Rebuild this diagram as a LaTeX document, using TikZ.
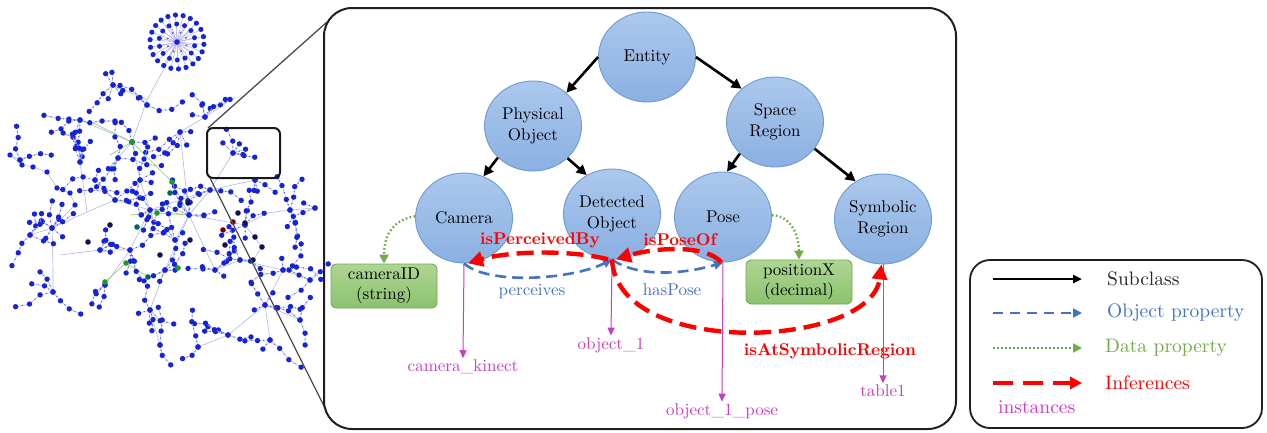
\documentclass[tikz,border=0pt]{standalone}
\usepackage{fontspec}
\setmainfont{lmroman10-regular.otf}[BoldFont=lmroman10-bold.otf]
\usetikzlibrary{arrows.meta,shapes.geometric}

\definecolor{clstop}{RGB}{172,200,237}
\definecolor{clsbot}{RGB}{138,176,226}
\definecolor{clsline}{RGB}{108,155,212}
\definecolor{boxtop}{RGB}{174,213,148}
\definecolor{boxbot}{RGB}{140,194,110}
\definecolor{boxline}{RGB}{112,172,78}
\definecolor{objblue}{RGB}{68,114,196}
\definecolor{datagreen}{RGB}{112,173,71}
\definecolor{instmag}{RGB}{202,62,192}
\definecolor{netblue}{RGB}{22,36,215}
\definecolor{netline}{RGB}{176,176,242}
\definecolor{netmidc}{RGB}{95,95,225}
\definecolor{netdark}{RGB}{18,18,80}
\definecolor{netgreenc}{RGB}{30,150,40}
\definecolor{netgline}{RGB}{150,205,130}

\tikzset{
  cls/.style={ellipse, draw=clsline, line width=0.9pt, top color=clstop, bottom color=clsbot,
    minimum width=97pt, minimum height=90pt, inner sep=0pt, align=center,
    font=\fontsize{17}{20.5}\selectfont},
  dtype/.style={rectangle, rounded corners=5pt, draw=boxline, line width=0.9pt,
    top color=boxtop, bottom color=boxbot, minimum width=106pt, minimum height=44pt,
    inner sep=0pt, align=center, font=\fontsize{17}{20}\selectfont},
  inst/.style={text=instmag, font=\fontsize{17}{20}\selectfont, inner sep=1.5pt},
  subcls/.style={draw=black, line width=2.6pt, -{Triangle[length=10pt,width=10pt]}},
  objprop/.style={draw=objblue, line width=2.6pt, dash pattern=on 11pt off 6pt,
    -{Triangle[length=9pt,width=9pt]}},
  dataprop/.style={draw=datagreen, line width=2.4pt, dash pattern=on 1.6pt off 2.4pt,
    -{Triangle[length=9pt,width=9pt]}},
  infer/.style={draw=red, line width=4.4pt, dash pattern=on 17pt off 8pt,
    -{Triangle[length=15pt,width=15pt]}},
  instof/.style={draw=instmag, line width=1pt, -{Triangle[length=8pt,width=7pt]}},
  lbl/.style={font=\fontsize{17}{20}\selectfont, inner sep=1pt},
  ilbl/.style={text=red, font=\fontsize{17}{20}\selectfont\bfseries, inner sep=1pt},
  leg/.style={font=\fontsize{19.5}{22}\selectfont, anchor=west, inner sep=0pt},
  panel/.style={draw=black!88, line width=2pt, rounded corners=28pt},
  legbox/.style={draw=black!88, line width=1.8pt, rounded corners=20pt},
  zoomwin/.style={draw=black!90, line width=2pt, rounded corners=6pt},
  zoomline/.style={draw=black!70, line width=1.3pt},
  netedge/.style={draw=netline, line width=0.55pt},
  netgedge/.style={draw=netgline, line width=0.7pt},
  netnode/.style={fill=netblue},
  netmid/.style={fill=netmidc},
}

% one hub of the network: #3 random branches of one to three links each
\newcommand\netcluster[3]{%
  \foreach \k in {1,...,#3}{%
    \pgfmathsetmacro\aA{360*rnd}%
    \pgfmathsetmacro\aB{\aA+80*(rnd-0.5)}%
    \pgfmathsetmacro\aC{\aB+80*(rnd-0.5)}%
    \pgfmathsetmacro\sA{10+5*rnd}%
    \pgfmathsetmacro\sB{10+5*rnd}%
    \pgfmathsetmacro\sC{10+5*rnd}%
    \pgfmathsetmacro\hA{0.5*\sA}%
    \pgfmathsetmacro\hB{0.5*\sB}%
    \pgfmathsetmacro\hC{0.5*\sC}%
    \pgfmathtruncatemacro\nlen{1+3*rnd}%
    \ifcase\nlen\or
      \draw[netedge] (#1,#2) -- ++(\aA:\sA);
      \fill[netmid] (#1,#2) ++(\aA:\hA) circle[radius=0.7pt];
      \fill[netnode] (#1,#2) ++(\aA:\sA) circle[radius=2.7pt];
    \or
      \draw[netedge] (#1,#2) -- ++(\aA:\sA) -- ++(\aB:\sB);
      \fill[netmid] (#1,#2) ++(\aA:\hA) circle[radius=0.7pt] ++(\aA:\hA) ++(\aB:\hB) circle[radius=0.7pt];
      \fill[netnode] (#1,#2) ++(\aA:\sA) circle[radius=2.7pt] ++(\aB:\sB) circle[radius=2.7pt];
    \else
      \draw[netedge] (#1,#2) -- ++(\aA:\sA) -- ++(\aB:\sB) -- ++(\aC:\sC);
      \fill[netmid] (#1,#2) ++(\aA:\hA) circle[radius=0.7pt] ++(\aA:\hA) ++(\aB:\hB) circle[radius=0.7pt]
        ++(\aB:\hB) ++(\aC:\hC) circle[radius=0.7pt];
      \fill[netnode] (#1,#2) ++(\aA:\sA) circle[radius=2.7pt] ++(\aB:\sB) circle[radius=2.7pt]
        ++(\aC:\sC) circle[radius=2.7pt];
    \fi
  }%
  \fill[netnode] (#1,#2) circle[radius=2.9pt];
}

\begin{document}
\begin{tikzpicture}[x=1pt,y=-1pt]
\useasboundingbox (0,0) rectangle (1267,432);
\fill[white] (0,0) rectangle (1267,432);

% ---------------- network overview ----------------
\pgfmathsetseed{11}
\draw[netedge] (177,42) -- (165,67) -- (147,100) -- (132,142);
\draw[netedge] (147,100) -- (113,85);
\draw[netedge] (132,142) -- (80,120);
\draw[netedge] (132,142) -- (118,158);
\draw[netedge] (132,142) -- (140,180) -- (150,210);
\draw[netedge] (189,215) -- (150,210) -- (115,200) -- (87,212) -- (52,228);
\draw[netedge] (87,212) -- (80,162);
\draw[netedge] (52,228) -- (53,268) -- (53,292);
\draw[netedge] (52,228) -- (75,205) -- (70,193) -- (57,188) -- (47,172) -- (33,167) -- (22,165) -- (10,155);
\draw[netedge] (189,215) -- (180,132) -- (205,117) -- (235,97);
\draw[netedge] (189,215) -- (210,190) -- (233,153);
\draw[netedge] (189,215) -- (245,225) -- (267,213) -- (290,210) -- (315,208);
\draw[netedge] (189,215) -- (215,270) -- (240,260) -- (283,270) -- (310,280);
\draw[netedge] (283,270) -- (265,305) -- (228,335) -- (198,347);
\draw[netedge] (265,305) -- (300,320);
\draw[netedge] (265,305) -- (270,340);
\draw[netedge] (189,215) -- (165,270) -- (150,310) -- (160,345);
\draw[netedge] (150,210) -- (130,250) -- (105,285);
\draw[netedge] (130,250) -- (100,250) -- (60,255);
\draw[netedge] (150,210) -- (210,190) -- (255,180);
\draw[netedge] (175,240) -- (189,215);
\draw[netedge] (95,180) -- (115,200);
\draw[netedge] (30,235) -- (52,228);
\draw[netedge] (245,225) -- (262,247) -- (253,260) -- (240,260);
\draw[netedge] (20,160) -- (10,155);
\draw[netgedge] (93,123) -- (132,142) -- (150,160);
\draw[netgedge] (110,155) -- (132,142) -- (172,182) -- (189,215);
\draw[netgedge] (130,215) -- (157,213) -- (189,215);
\draw[netgedge] (157,213) -- (150,232);
\draw[netgedge] (105,282) -- (126,263) -- (148,277) -- (178,268);

% hub at the top: a dense star
\foreach \k in {0,...,21}{
  \draw[netedge] (177,42) -- ++(\k*16.36+5:27);
  \fill[netnode] (177,42) ++(\k*16.36+5:27) circle[radius=2.6pt];
}
\foreach \k in {0,...,13}{
  \draw[netedge] (177,42) -- ++(\k*25.7+12:18);
  \fill[netnode] (177,42) ++(\k*25.7+12:18) circle[radius=2.5pt];
}
\foreach \k in {0,...,7}{
  \fill[netmid] (177,42) ++(\k*45+20:10) circle[radius=1.1pt];
}
\fill[netnode] (177,42) circle[radius=2.8pt];

% branching clusters
\foreach \hx/\hy/\hn in {
  113/85/6, 147/105/3, 80/120/5, 118/158/5, 132/142/3, 80/162/4, 52/228/8,
  53/292/4, 115/200/4, 150/210/5, 189/215/6, 180/132/5, 205/117/5, 233/153/6,
  210/190/4, 245/225/5, 290/210/5, 130/250/5, 165/270/5, 215/270/5, 283/270/4,
  265/305/5, 228/335/4, 150/310/5, 300/320/3, 105/285/3, 175/240/4, 255/180/3,
  100/250/4, 30/235/4, 240/260/3, 315/208/2, 198/347/2, 140/180/4, 270/340/3,
  310/280/3, 95/180/3, 160/345/2, 20/160/2}
  {\netcluster{\hx}{\hy}{\hn}}

% chain on the far left
\foreach \cx/\cy in {10/155, 22/165, 33/167, 47/172, 57/188, 70/193, 75/205}
  {\fill[netnode] (\cx,\cy) circle[radius=2.7pt];}

% highlighted nodes
\foreach \cx/\cy in {188/203, 238/213, 245/223, 255/237, 262/247, 253/260, 88/242,
  225/245, 160/255, 110/225, 190/240}
  {\fill[netdark] (\cx,\cy) circle[radius=2.8pt];}
\foreach \cx/\cy in {233/222, 223/230}
  {\fill[red!45!black] (\cx,\cy) circle[radius=2.8pt];}
\foreach \cx/\cy in {132/142, 157/213, 172/182, 105/282, 126/263, 178/268}
  {\fill[netgreenc] (\cx,\cy) circle[radius=2.8pt];}
\foreach \cx/\cy in {137/227, 148/277, 170/193}
  {\fill[teal!80!black] (\cx,\cy) circle[radius=2.8pt];}

% ---------------- zoom window ----------------
\draw[zoomwin] (207,128) rectangle (280,178);
\coordinate (zwTL) at (208,128);
\coordinate (zwBL) at (210,178);
\coordinate (pnTL) at (327,22);
\coordinate (pnBL) at (326,410);
\draw[zoomline] (zwTL) -- (pnTL);
\draw[zoomline] (zwBL) -- (pnBL);

% ---------------- ontology panel ----------------
\draw[panel] (324,8) rectangle (956,429);

\node[cls] (entity) at (647,57) {Entity};
\node[cls] (phys)   at (533,126) {Physical\\Object};
\node[cls] (space)  at (775,122) {Space\\Region};
\node[cls] (camera) at (464,218) {Camera};
\node[cls] (detobj) at (612,214) {Detected\\Object};
\node[cls] (pose)   at (723,217) {Pose};
\node[cls] (symreg) at (883,219) {Symbolic\\Region};

\node[dtype] (camid) at (384,286) {cameraID\\(string)};
\node[dtype] (posx)  at (799,282) {positionX\\(decimal)};

\node[inst] (camkin)  at (463,367) {camera\_kinect};
\node[inst] (obj1)    at (611,345) {object\_1};
\node[inst] (objpose) at (722,411) {object\_1\_pose};
\node[inst] (table1)  at (883,391) {table1};

% subclass links
\draw[subcls] (entity.180) -- (phys.45);
\draw[subcls] (entity.0) -- (space.135);
\draw[subcls] (phys.222) -- (camera.65);
\draw[subcls] (phys.317) -- (detobj.123);
\draw[subcls] (space.222) -- (pose.85);
\draw[subcls] (space.326) -- (symreg.126);

% data properties
\draw[dataprop] (camera.178) .. controls +(-25,4) and +(0,-25) .. (camid.north);
\draw[dataprop] (pose.2) .. controls +(20,0) and +(0,-22) .. (posx.north);

% instances
\draw[instof] (camera.south) -- (camkin.north);
\draw[instof] (detobj.south) -- (obj1.north);
\draw[instof] (pose.south) -- (objpose.north);
\draw[instof] (symreg.south) -- (table1.north);

% object properties
\draw[objprop] (camera.-90) .. controls +(25,22) and +(-40,20) .. (detobj.-90);
\draw[objprop] (detobj.-90) .. controls +(25,18) and +(-40,12) .. (pose.-90);
\node[lbl, text=objblue] (lperc) at (532,292) {perceives};
\node[lbl, text=objblue] (lhas)  at (672,290) {hasPose};

% inferred properties
\draw[infer] (detobj.-95) .. controls +(-40,-10) and +(40,-12) .. (camera.-85);
\draw[infer] (pose.-92) .. controls +(-15,-18) and +(40,-12) .. (detobj.-85);
\draw[infer] (detobj.-90) .. controls +(5,100) and +(-10,84) .. (symreg.-92);
\node[ilbl] (lisperc) at (540,240) {isPerceivedBy};
\node[ilbl] (lispose) at (680,240) {isPoseOf};
\node[ilbl] (lisat)   at (830,351) {isAtSymbolicRegion};

% ---------------- legend ----------------
\draw[legbox] (970,260) rectangle (1262,428);
\coordinate (la1) at (993,279);  \coordinate (lb1) at (1082,279);
\coordinate (la2) at (993,313);  \coordinate (lb2) at (1082,313);
\coordinate (la3) at (993,348);  \coordinate (lb3) at (1082,348);
\coordinate (la4) at (993,383);  \coordinate (lb4) at (1082,383);
\draw[subcls, line width=2.4pt, -{Triangle[length=9pt,width=8pt]}] (la1) -- (lb1);
\draw[objprop, dash pattern=on 10pt off 7pt] (la2) -- (lb2);
\draw[dataprop] (la3) -- (lb3);
\draw[infer, line width=3.6pt, dash pattern=on 20pt off 10pt, -{Triangle[length=12pt,width=12pt]}] (la4) -- (lb4);
\node[leg, text=black!85] (tsub)  at (1107,279) {Subclass};
\node[leg, text=objblue]  (tobj)  at (1107,313) {Object property};
\node[leg, text=datagreen] (tdata) at (1105,348) {Data property};
\node[leg, text=red]      (tinf)  at (1105,383) {Inferences};
\node[leg, text=instmag]  (tinst) at (998,407) {instances};
\end{tikzpicture}
\end{document}
